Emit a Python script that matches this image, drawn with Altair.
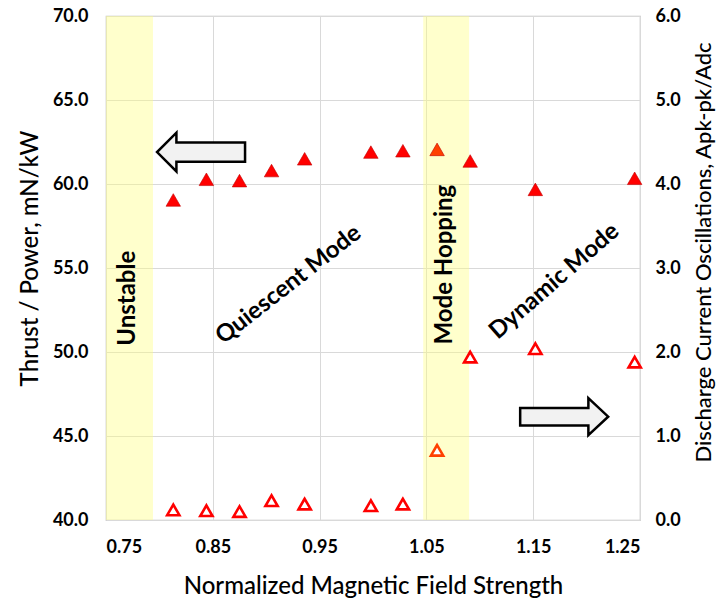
import altair as alt
import pandas as pd

# ---- data ----
field = [0.813, 0.844, 0.875, 0.905, 0.936, 0.998, 1.028, 1.060, 1.091, 1.152, 1.245]
thrust_power = [59.05, 60.28, 60.20, 60.80, 61.50, 61.90, 61.98, 62.06, 61.37, 59.68, 60.34]
oscillation = [0.12, 0.11, 0.10, 0.23, 0.19, 0.17, 0.19, 0.83, 1.94, 2.04, 1.88]
tone = ["#FF0000"] * 7 + ["#FF4000"] + ["#FF0000"] * 3

band_start = [0.75, 1.047]
band_end = [0.794, 1.090]

label_text = ["Unstable", "Quiescent Mode", "Mode Hopping", "Dynamic Mode"]
label_x = [0.7706, 0.921, 1.0674, 1.170]
label_y = [53.2, 54.0, 55.2, 54.2]
label_angle = [270, 322, 270, 319]

arrow_left_pos = {"x": [0.839], "y": [61.9]}
arrow_right_pos = {"x": [1.179], "y": [1.23]}

x_ticks = [0.75, 0.85, 0.95, 1.05, 1.15, 1.25]
left_ticks = [40, 45, 50, 55, 60, 65, 70]
right_ticks = [0, 1, 2, 3, 4, 5, 6]

pts = pd.DataFrame({"x": field, "tp": thrust_power, "osc": oscillation, "tone": tone})
bands = pd.DataFrame({"x": band_start, "x2": band_end, "y": [40.0, 40.0], "y2": [70.0, 70.0]})
labels = pd.DataFrame({"x": label_x, "y": label_y, "t": label_text, "a": label_angle})

FONT = "Lato"

x_enc = alt.X(
    "x:Q",
    scale=alt.Scale(domain=[0.75, 1.25], nice=False, zero=False),
    axis=alt.Axis(values=x_ticks, format=".2f", grid=True, title="Normalized Magnetic Field Strength",
                  labelPadding=18, titlePadding=18),
)

yl_scale = alt.Scale(domain=[40, 70], nice=False, zero=False)
yl_axis = alt.Axis(values=left_ticks, format=".1f", grid=True, title="Thrust / Power, mN/kW",
                   labelPadding=18, titlePadding=10, titleY=242)

band_layer = alt.Chart(bands).mark_rect(color="#FFFF80", opacity=0.4).encode(
    x=x_enc, x2="x2:Q", y=alt.Y("y:Q", scale=yl_scale, axis=yl_axis), y2="y2:Q"
)

filled = alt.Chart(pts).mark_point(shape="triangle-up", filled=True, size=210, opacity=1,
                                   strokeWidth=0.6).encode(
    x=x_enc, y=alt.Y("tp:Q", scale=yl_scale, axis=yl_axis),
    fill=alt.Fill("tone:N", scale=None), stroke=alt.value("#C00000"),
)

text_layer = alt.Chart(labels).mark_text(font=FONT, fontSize=24, fontWeight="bold", color="#000000").encode(
    x=x_enc, y=alt.Y("y:Q", scale=yl_scale, axis=yl_axis), text="t:N",
    angle=alt.Angle("a:Q", scale=None),
)

left_arrow_path = "M 1 -0.22 L -0.56 -0.22 L -0.56 -0.44 L -1 0 L -0.56 0.44 L -0.56 0.22 L 1 0.22 Z"
right_arrow_path = "M -1 -0.2 L 0.55 -0.2 L 0.55 -0.42 L 1 0 L 0.55 0.42 L 0.55 0.2 L -1 0.2 Z"

arrow_l = alt.Chart(pd.DataFrame(arrow_left_pos)).mark_point(
    shape=left_arrow_path, size=88 * 88, filled=True, fill="#F2F2F2", stroke="#000000",
    strokeWidth=2.5, opacity=1
).encode(x=x_enc, y=alt.Y("y:Q", scale=yl_scale, axis=yl_axis))

left = alt.layer(band_layer, filled, text_layer, arrow_l)

yr_scale = alt.Scale(domain=[0, 6], nice=False, zero=False)
yr_axis = alt.Axis(values=right_ticks, format=".1f", grid=False, orient="right",
                   title="Discharge Current Oscillations, Apk-pk/Adc", titleFontSize=22,
                   titleAngle=270, titleX=63, titleY=236, titleBaseline="middle", titleAlign="center",
                   labelPadding=15, titlePadding=8)

opened = alt.Chart(pts).mark_point(shape="triangle-up", filled=True, fill="white", size=150,
                                   strokeWidth=2.6, opacity=1).encode(
    x=x_enc, y=alt.Y("osc:Q", scale=yr_scale, axis=yr_axis),
    stroke=alt.Stroke("tone:N", scale=None),
)

arrow_r = alt.Chart(pd.DataFrame(arrow_right_pos)).mark_point(
    shape=right_arrow_path, size=88 * 88, filled=True, fill="#F2F2F2", stroke="#000000",
    strokeWidth=2.5, opacity=1
).encode(x=x_enc, y=alt.Y("y:Q", scale=yr_scale, axis=yr_axis))

right = alt.layer(opened, arrow_r)

chart = alt.layer(left, right).resolve_scale(y="independent").properties(
    width=534, height=504,
    padding={"left": 106, "top": 16, "right": 80, "bottom": 82},
    autosize=alt.AutoSizeParams(type="none"),
    background="white",
).configure_view(stroke="#BFBFBF", strokeWidth=1.2).configure_axis(
    labelFont=FONT, labelFontSize=18, labelFontWeight="bold", labelColor="#000000",
    titleFont=FONT, titleFontSize=24, titleFontWeight=500, titleColor="#000000",
    gridColor="#D9D9D9", gridWidth=1, domain=False, ticks=False,
)

chart.save("out.html", embed_options={"renderer": "svg", "actions": False})
